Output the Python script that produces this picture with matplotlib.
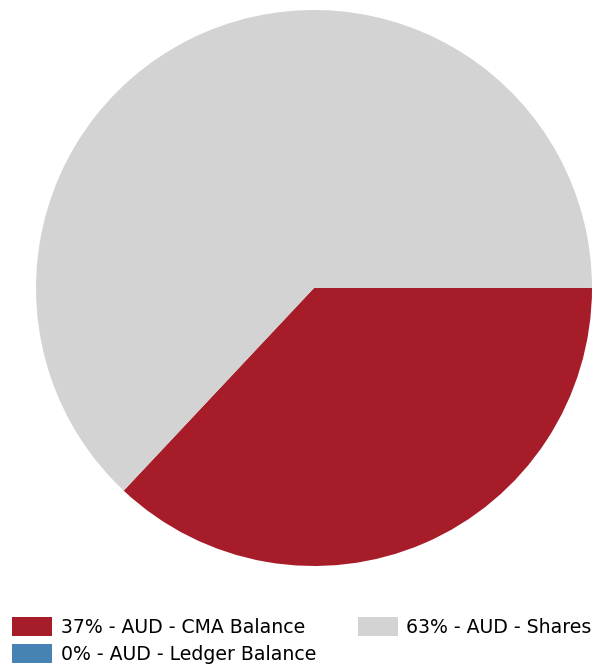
import matplotlib
matplotlib.use("Agg")
import matplotlib.pyplot as plt
from matplotlib.patches import Patch

labels = ["AUD - CMA Balance", "AUD - Ledger Balance", "AUD - Shares"]
percents = [37, 0, 63]
colors = ["#A61C28", "#4682B4", "#D3D3D3"]

W, H = 595, 665
fig = plt.figure(figsize=(W / 100, H / 100), dpi=100)
cx, cy, r = 314, 288, 278
ax = fig.add_axes([(cx - r) / W, (H - cy - r) / H, 2 * r / W, 2 * r / H])
ax.pie(percents, colors=colors, startangle=0, counterclock=False,
       radius=1, wedgeprops=dict(linewidth=0))
ax.set_xlim(-1, 1)
ax.set_ylim(-1, 1)
ax.set_aspect("equal")
ax.axis("off")

handles = [Patch(facecolor=c, edgecolor="none") for c in colors]
leg_labels = [f"{p}% - {l}" for p, l in zip(percents, labels)]
fs = 13.6
fig.legend(handles, leg_labels, ncol=2, loc="upper left",
           bbox_to_anchor=(12 / W, 1 - 617 / H), frameon=False,
           prop=dict(family="DejaVu Sans", size=fs),
           handlelength=2.12, handleheight=1.17, handletextpad=0.46,
           columnspacing=2.2, labelspacing=0.4, borderpad=0,
           borderaxespad=0)
fig.savefig("out.png", dpi=100)
